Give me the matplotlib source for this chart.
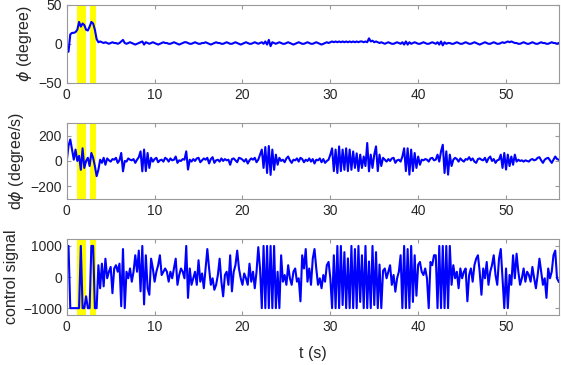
import numpy as np
import matplotlib.pyplot as plt

plt.rcParams['font.family'] = ['Liberation Sans', 'DejaVu Sans']
plt.rcParams['mathtext.fontset'] = 'dejavusans'

# sample interval of the recorded signals (s)
dt = 0.2

# roll angle (degree), one row = 2 s
phi = [
    -11, -10, 12, 14, 14, 15, 18, 28, 22, 26,
    24, 18, 17, 22, 28, 26, 18, 6, 2, 3,
    2, 1, 2, 1, 0, 1, 2, 1, 1, 0,
    1, 3, 5, 1, 0, 1, 2, 1, 0, -1,
    0, 1, 2, 3, -1, 2, 1, 0, 1, 2,
    1, 0, -1, 0, 1, 2, 1, 1, 0, 0,
    1, 2, 1, 0, -1, 0, 1, 2, 2, 1,
    0, 0, 1, 2, 1, 0, 0, 1, 1, 2,
    1, 0, -1, 0, 1, 2, 1, 1, 0, 0,
    1, 2, 1, 0, 0, 1, 2, 1, 0, -1,
    0, 1, 2, 1, 0, 0, 1, 2, 1, 0,
    1, 2, 0, 3, -1, 5, -3, 2, 1, 0,
    1, 2, 1, 0, 0, 1, 2, 1, 0, -1,
    0, 1, 2, 1, 0, 0, 1, 2, 1, 0,
    0, 1, 2, 1, 0, -1, 0, 1, 2, 1,
    2, 3, 2, 3, 2, 3, 2, 3, 2, 3,
    2, 3, 2, 3, 2, 3, 2, 3, 3, 2,
    3, 2, 7, 3, 4, 2, 3, 2, 1, 2,
    1, 0, 1, 2, 1, 0, 0, 1, 2, 1,
    0, 2, -1, 3, -1, 2, 0, 1, 2, 1,
    0, 0, 1, 2, 1, 0, 0, 1, 2, 1,
    0, 2, -1, 3, -2, 2, 0, 1, 1, 0,
    0, 1, 2, 1, 0, 0, 1, 2, 1, 0,
    0, 1, 2, 1, 0, -1, 0, 1, 2, 1,
    0, 0, 1, 2, 1, 0, 0, 1, 2, 1,
    2, 3, 2, 3, 2, 1, 1, 0, 0, 1,
    2, 1, 0, 0, 1, 2, 1, 0, 0, 1,
    2, 1, 1, 0, 0, 1, 2, 1, 1, 0, 1,
]

# roll rate (degree/s)
dphi = [
    0, 120, 170, 90, 10, 90, 0, 40, -70, 100,
    -55, 0, 25, -40, 63, 25, -40, -120, -70, 10,
    -15, 25, -30, 20, 5, -5, 15, 10, 25, -15,
    5, 63, -82, 0, -5, 20, 10, 5, 15, -15,
    10, 30, 76, -82, 90, -80, 63, -55, 25, -5,
    15, 25, -10, 5, 10, -5, 25, 15, -5, 20,
    5, 10, 35, -15, 5, 0, 15, 10, 76, -68,
    10, -5, 15, 0, 20, 25, -10, 5, 20, 10,
    25, -20, 15, 30, -15, 5, 10, -5, 20, 0,
    15, 5, 10, -30, 15, 20, 5, -10, 25, 20,
    10, -5, 15, -20, 5, 20, 10, 25, -10, 10,
    50, 90, -55, 110, -95, 118, -110, 90, -70, 50,
    -30, 25, 0, 10, -10, 20, 35, 5, -15, 10,
    5, 20, -5, 25, 15, -10, 10, 0, 20, -5,
    15, -20, 10, 5, 20, -10, 15, -15, 0, 10,
    50, 100, -80, 90, -95, 115, -80, 90, -70, 100,
    -80, 90, -70, 75, -55, 60, -80, 50, -55, 35,
    -40, 142, -82, 50, -55, 50, 115, -80, 50, -40,
    25, 10, -5, 15, 0, 20, 25, -15, 5, 10,
    -5, 35, 100, -80, 100, -108, 90, -80, 63, -55,
    35, -30, 10, 5, 15, 10, -5, 20, 25, 5,
    10, 50, -5, 76, 128, -95, 76, -108, 50, -40,
    10, 25, 15, -5, 20, 5, -5, 15, 10, 30,
    5, 20, -5, -15, 15, 20, 10, 5, 25, -10,
    20, 35, 0, 15, -15, 5, 10, 50, -55, 63,
    -68, 50, -40, 35, -30, 50, -5, 10, 0, 5,
    -5, 5, 0, -5, 10, 15, 5, 10, 25, 30,
    5, -15, 10, 20, 25, 5, -15, 10, 35, 15, 10,
]

# control signal
u = [
    1000, 1000, -1000, -1000, -1000, -1000, -1000, -1000, 1000, -1000,
    -1000, -620, -1000, -1000, 1000, 1000, -1000, -1000, 380, -360,
    430, -300, 590, -40, 170, 325, -520, 275, 380, 170,
    430, -940, 900, -1000, 170, -40, 275, -150, 170, 700,
    170, 850, -460, 1000, -880, 700, -360, -570, 590, 275,
    -150, 170, 380, 700, 65, 170, 275, 170, -150, 170,
    -40, 275, 590, -250, 65, 275, 170, -40, 1000, -670,
    275, -250, -40, 170, -250, 540, -150, 115, -360, 275,
    900, 275, -250, -40, -410, -250, 65, 590, -150, -620,
    65, 170, -250, 700, -460, 170, 380, 850, 275, -40,
    -250, 115, -40, -250, 430, -150, 170, -360, 170, 960,
    275, -1000, 1000, -1000, 1000, -1000, 1000, -1000, 1000, -1000,
    170, -1000, 700, -150, 65, -250, 380, -40, -250, 170,
    275, -150, -40, -780, 700, 275, 900, -150, 275, -250,
    590, 900, 275, -250, -40, -360, 65, -150, 380, 485,
    -40, -1000, 700, -1000, 1000, -1000, 1000, -900, 800, -1000,
    600, -1000, 1000, -1000, 900, -1000, 1000, -800, 700, -1000,
    1000, -1000, 500, -1000, 1000, -900, 800, -1000, 400, -1000,
    200, 275, -40, 170, 380, -250, 65, -470, -40, 170,
    700, -1000, 1000, -1000, 900, -1000, 1000, -800, 700, -600,
    400, 485, 170, 65, 275, -40, -1000, 485, 380, 700,
    700, -1000, 1000, -1000, 1000, -1000, 1000, -1000, 1000, -250,
    380, -40, 170, -360, 275, -40, 170, 275, -780, 65,
    275, -150, 380, 590, 700, 170, -570, 275, -40, 485,
    -250, 170, 380, 700, 65, -250, 590, 900, -40, -1000,
    275, -1000, 65, -250, 700, -40, 750, 170, -250, -40,
    275, -150, 170, 65, -150, 325, -40, -360, 65, 590,
    170, -250, -40, -670, 275, -40, 170, 700, 850, -40, -150,
]

# highlighted intervals (s)
bands = [(1.2, 2.15), (2.65, 3.3)]

series = [phi, dphi, u]
ylabels = [r'$\phi$ (degree)', r'd$\phi$ (degree/s)', 'control signal']
ylims = [(-50, 50), (-300, 300), (-1220, 1220)]
yticks = [[-50, 0, 50], [-200, 0, 200], [-1000, 0, 1000]]
label_x = [-0.066, -0.083, -0.097]

fig = plt.figure(figsize=(5.61, 3.65), dpi=100)
rects = [
    [0.119, 0.773, 0.877, 0.214],
    [0.119, 0.455, 0.877, 0.208],
    [0.119, 0.137, 0.877, 0.208],
]

for rect, y, lab, yl, yt, lx in zip(rects, series, ylabels, ylims, yticks, label_x):
    ax = fig.add_axes(rect)
    t = np.arange(len(y)) * dt
    for a, b in bands:
        ax.axvspan(a, b, color='#ffff00', lw=0, zorder=1)
    ax.plot(t, y, color='#0000ff', lw=1.5, zorder=2)
    ax.set_xlim(0, 56)
    ax.set_ylim(*yl)
    ax.set_yticks(yt)
    ax.set_xticks([0, 10, 20, 30, 40, 50])
    ax.set_ylabel(lab, fontsize=11.5, color='#262626')
    ax.tick_params(direction='in', top=True, right=True, length=3,
                   labelsize=10, colors='#999999', labelcolor='#262626')
    for s in ax.spines.values():
        s.set_color('#999999')
        s.set_linewidth(0.8)
    ax.yaxis.set_label_coords(lx, 0.5)

ax.set_xlabel('t (s)', fontsize=11.5, color='#262626', labelpad=9)

fig.savefig('out.png', dpi=100)
